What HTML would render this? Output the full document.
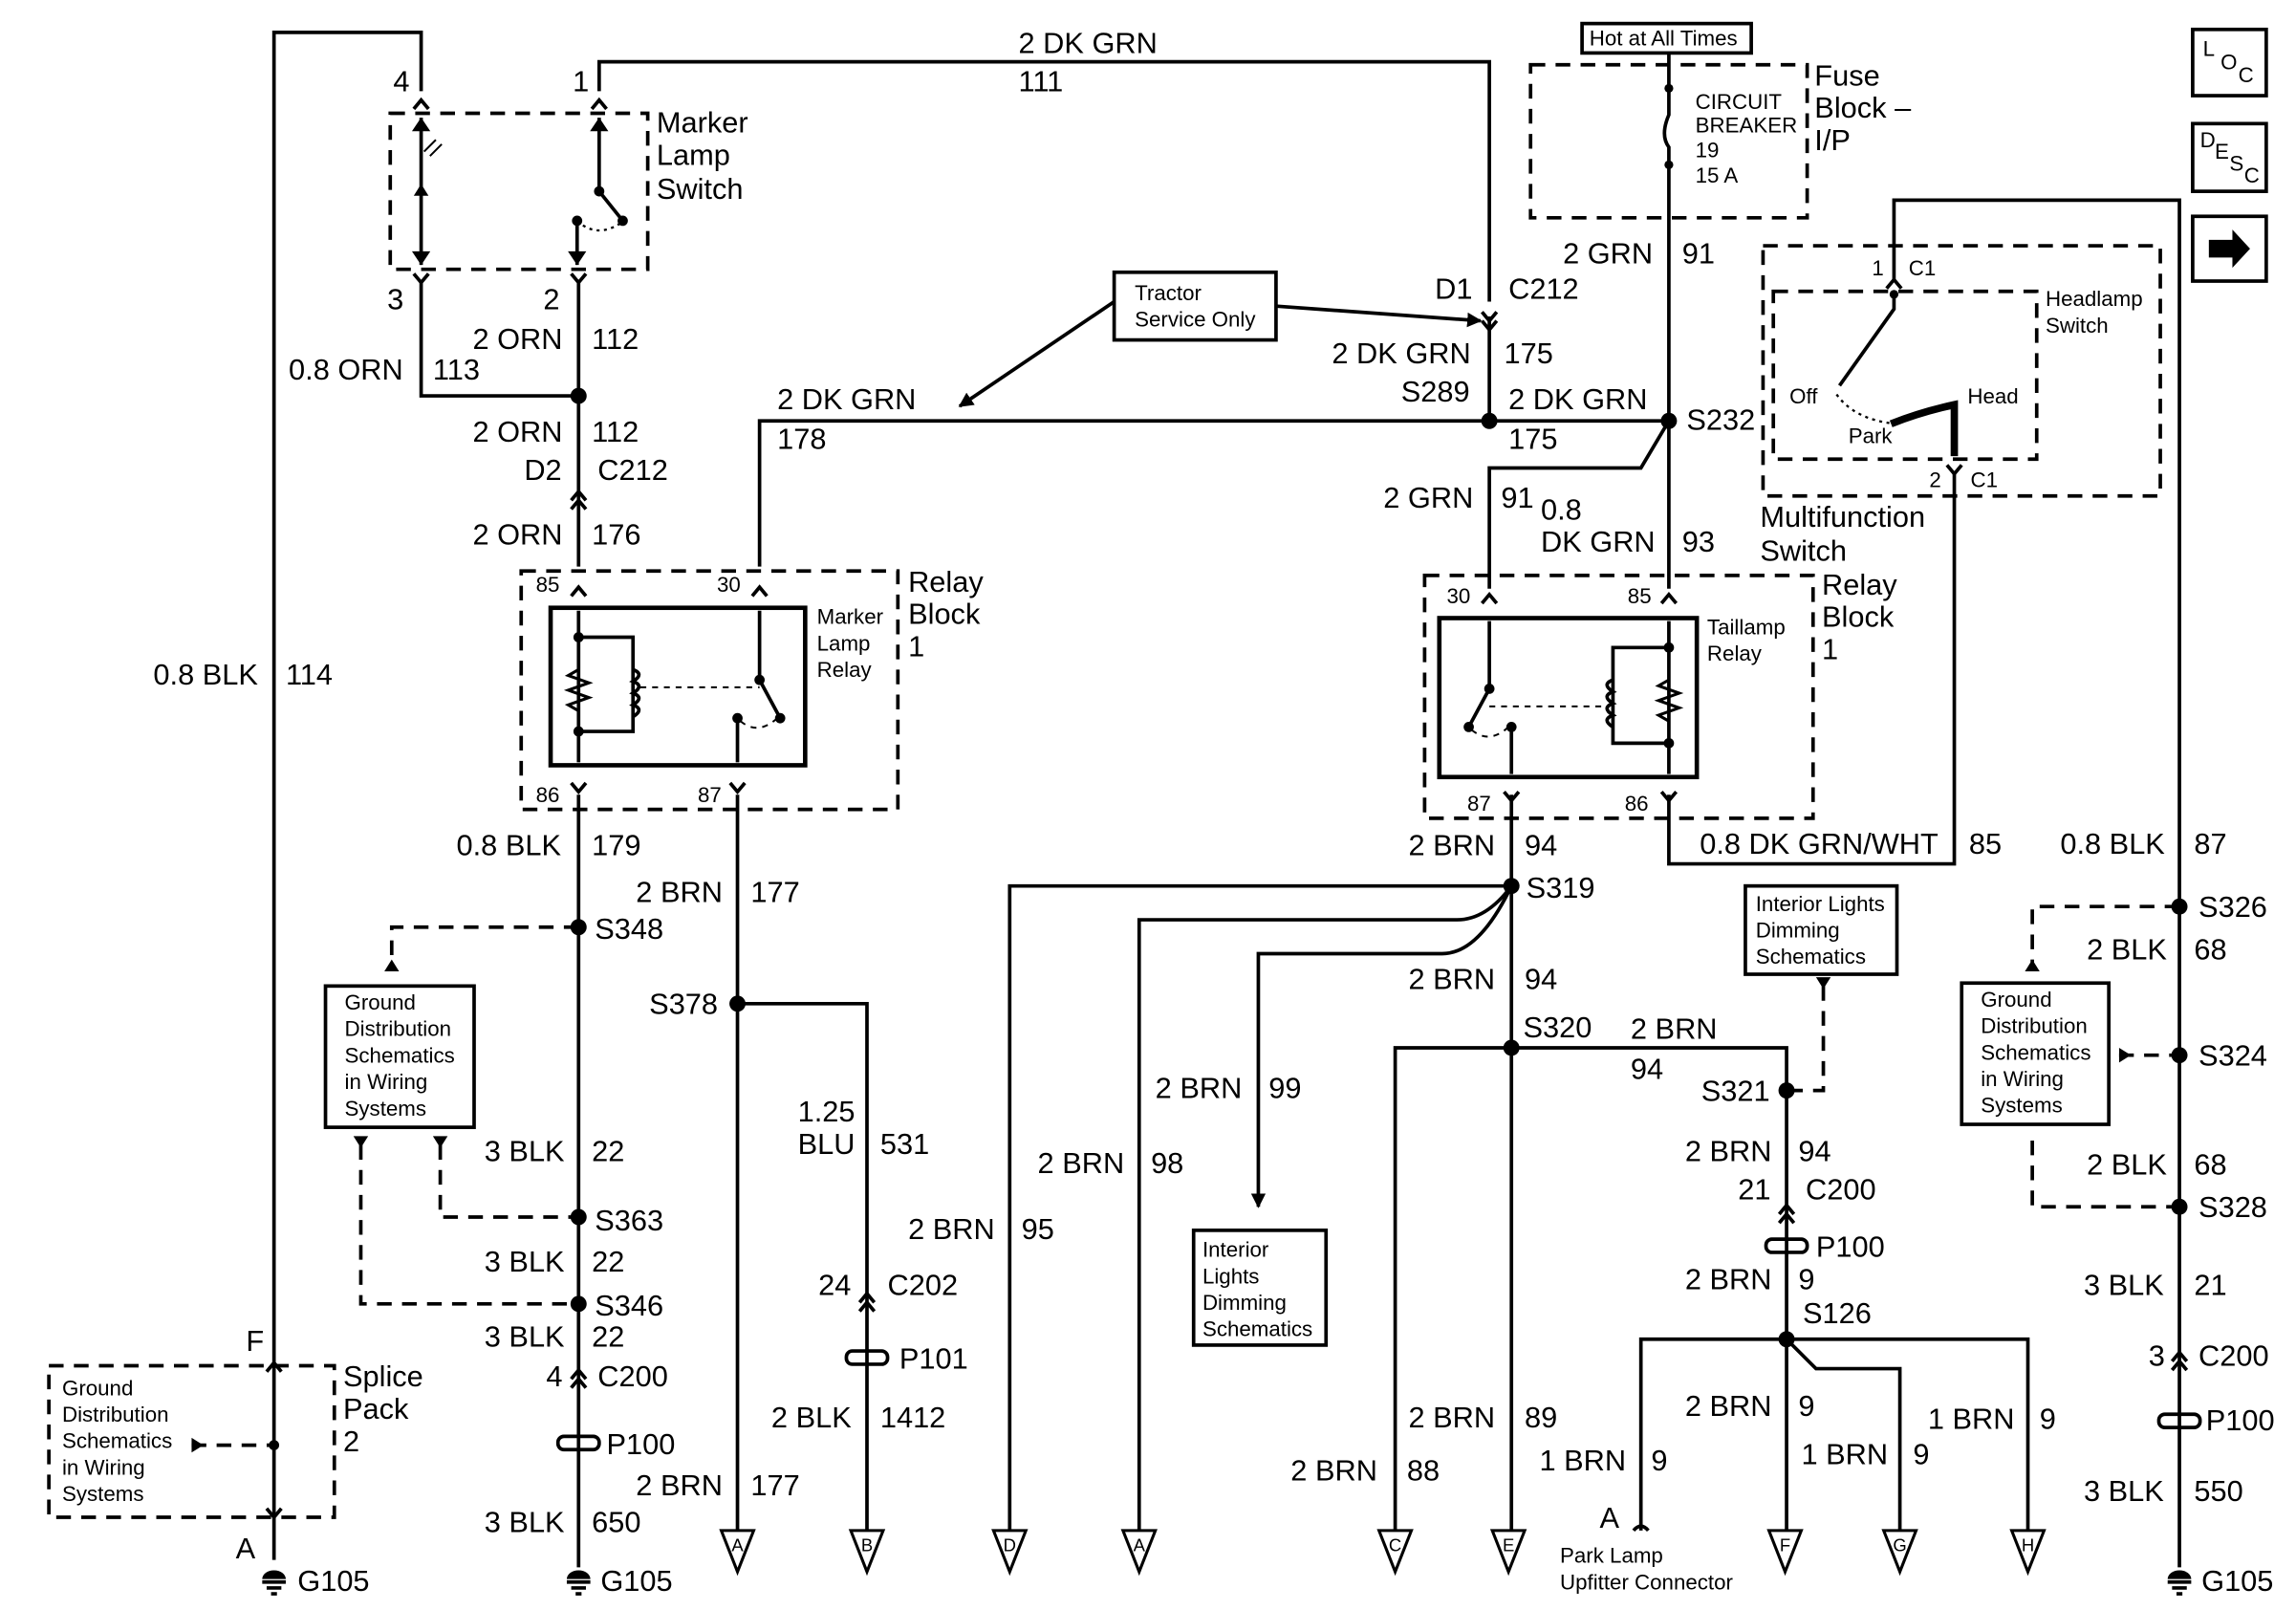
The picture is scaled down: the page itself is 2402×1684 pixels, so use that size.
<!DOCTYPE html>
<html><head><meta charset="utf-8"><style>
html,body{margin:0;padding:0;background:#fff}
svg{display:block}
text{font-family:"Liberation Sans",sans-serif;fill:#000}
.l{font-size:20px}
.s{font-size:14.5px}
.t{font-size:12px}
</style></head><body>
<svg width="2402" height="1684" viewBox="0 0 1560 1094" xmlns="http://www.w3.org/2000/svg">
<defs>
<marker id="ar" markerWidth="10" markerHeight="10" refX="9" refY="5" orient="auto" markerUnits="userSpaceOnUse"><path d="M0,0 L10,5 L0,10 z" fill="#000"/></marker>
</defs>
<g fill="none" stroke="#000" stroke-width="2.4">
<path d="M186 1060 V22 H286 V62"/>
<path d="M407 62 V42 H1012 V205"/>
<path d="M286 190 V269 H393"/>
<path d="M393 190 V385"/>
<path d="M516 385 V286 H1134"/>
<path d="M1012 215 V286"/>
<path d="M1134 36 V60 M1134 112 V400"/>
<path d="M1134 286 L1115 318 H1012 V400"/>
<path d="M1134 540 V587 H1328 V320"/>
<path d="M1287 190 V136 H1481 V1065"/>
<path d="M393 540 V1065"/>
<path d="M501 540 V1040 M501 682 H589 V1040"/>
<path d="M1027 540 V1040"/>
<path d="M1027 602 H686 V1040"/>
<path d="M1027 602 Q1010 625 990 625 H774 V1040"/>
<path d="M1027 602 Q1005 648 980 648 H855 V820" marker-end="url(#ar)"/>
<path d="M948 1040 V712 H1214 V1040"/>
<path d="M1115 1040 V910 H1378 V1040"/>
<path d="M1214 910 L1234 930 H1291 V1040"/>
<g stroke-dasharray="10,7">
<rect x="265" y="77" width="175" height="106"/>
<rect x="354" y="388" width="256" height="162"/>
<rect x="968" y="391" width="264" height="165"/>
<rect x="1040" y="44" width="188" height="104"/>
<rect x="1198" y="167" width="270" height="170"/>
<rect x="1205" y="198" width="179" height="114"/>
<rect x="33" y="928" width="194" height="103"/>
<path d="M393 630 H266 V655 M1481 616 H1381 V655 M1440 717 H1481 M1381 775 V820 H1481 M299 778 V827 H393 M245 778 V886 H393 M1239 670 V741 H1214 M130 982 H186"/>
</g>
<rect x="374" y="413" width="173" height="107" stroke-width="3"/>
<rect x="978" y="420" width="175" height="108" stroke-width="3"/>
<rect x="757" y="185" width="110" height="46"/>
<rect x="1075" y="16" width="115" height="20"/>
<rect x="221" y="670" width="101" height="96"/>
<rect x="1333" y="668" width="100" height="96"/>
<rect x="1186" y="602" width="103" height="60"/>
<rect x="811" y="836" width="90" height="78"/>
<rect x="1490" y="20" width="50" height="45"/>
<rect x="1490" y="84" width="50" height="46"/>
<rect x="1490" y="147" width="50" height="44"/>
<path d="M757 205 L652 276" marker-end="url(#ar)"/>
<path d="M867 208 L1006 218" marker-end="url(#ar)"/>
<path d="M286 80 V180 M407 80 V130 L423 150 M392 150 V180"/>
<path d="M392 150 Q405 162 421 152" stroke-dasharray="2,3" stroke-width="1.5"/>
<path d="M393 415 V518 M393 433 H430 V497 H393 M516 415 V462 L530 488 M501 488 V518"/>
<path d="M393 455 l-7 4 14 5 -14 5 14 5 -14 5 7 4" stroke-width="2"/>
<path d="M430 455 q8 3 0 8 q8 3 0 8 q8 3 0 8 q8 3 0 8"/>
<path d="M435 467 H516 M503 490 Q515 500 528 488" stroke-dasharray="4,4" stroke-width="1.3"/>
<path d="M1134 422 V526 M1134 440 H1096 V505 H1134 M1012 422 V468 L998 494 M1027 494 V526"/>
<path d="M1134 462 l-7 4 14 5 -14 5 14 5 -14 5 7 4" stroke-width="2"/>
<path d="M1096 462 q-8 3 0 8 q-8 3 0 8 q-8 3 0 8 q-8 3 0 8"/>
<path d="M1012 480 H1090 M1000 496 Q1012 506 1025 494" stroke-dasharray="4,4" stroke-width="1.3"/>
<path d="M1287 200 V210 L1250 262"/>
<path d="M1248 268 Q1260 285 1288 288" stroke-dasharray="2,3" stroke-width="1.5"/>
<path d="M1285 288 Q1305 280 1328 275 V310" stroke-width="5"/>
<path d="M1134 60 V78 Q1128 92 1134 100 V112"/>
<path d="M281 74 l5 -6 5 6 M402 74 l5 -6 5 6 M281 186 l5 6 5 -6 M388 186 l5 6 5 -6 M1007 212 l5 6 5 -6 M1007 218 l5 6 5 -6 M388 340 l5 -6 5 6 M388 346 l5 -6 5 6 M388 405 l5 -6 5 6 M511 405 l5 -6 5 6 M388 532 l5 6 5 -6 M496 532 l5 6 5 -6 M1007 410 l5 -6 5 6 M1129 410 l5 -6 5 6 M1022 538 l5 6 5 -6 M1129 538 l5 6 5 -6 M1282 196 l5 -6 5 6 M1323 316 l5 6 5 -6 M388 937 l5 -6 5 6 M388 943 l5 -6 5 6 M584 885 l5 -6 5 6 M584 891 l5 -6 5 6 M1209 825 l5 -6 5 6 M1209 831 l5 -6 5 6 M1476 925 l5 -6 5 6 M1476 931 l5 -6 5 6 M181 932 l5 -6 5 6 M181 1025 l5 6 5 -6 M1110 1040 q5 -6 10 0"/>
<path d="M286 82 l-4 6 8 0 z M286 178 l-4 -6 8 0z M407 82 l-4 6 8 0z M392 178 l-4 -6 8 0z" fill="#000"/>
<path d="M490 1040 L512 1040 L501 1068 Z M578 1040 L600 1040 L589 1068 Z M675 1040 L697 1040 L686 1068 Z M763 1040 L785 1040 L774 1068 Z M937 1040 L959 1040 L948 1068 Z M1014 1040 L1036 1040 L1025 1068 Z M1202 1040 L1224 1040 L1213 1068 Z M1280 1040 L1302 1040 L1291 1068 Z M1367 1040 L1389 1040 L1378 1068 Z" stroke-width="2"/>
<rect x="379" y="976" width="28" height="9" rx="4"/>
<rect x="575" y="918" width="28" height="9" rx="4"/>
<rect x="1200" y="842" width="28" height="9" rx="4"/>
<rect x="1467" y="961" width="28" height="9" rx="4"/>
<path d="M178 1075 H194 M181 1079 H191 M184 1083 H188 M385 1075 H401 M388 1079 H398 M391 1083 H395 M1473 1075 H1489 M1476 1079 H1486 M1479 1083 H1483"/>
</g>
<g fill="#000">
<path d="M266 652 l-5 8 10 0z M1381 652 l-5 8 10 0z M299 780 l-5 -8 10 0z M245 780 l-5 -8 10 0z M1239 672 l-5 -8 10 0z M1448 717 l-8 -5 0 10z M138 982 l-8 -5 0 10z"/>
<path d="M1501 163 h16 v-7 l12 13 -12 13 v-7 h-16z"/>
<circle cx="393" cy="269" r="5.5"/><circle cx="1012" cy="286" r="5.5"/><circle cx="1134" cy="286" r="5.5"/>
<circle cx="393" cy="630" r="5.5"/><circle cx="393" cy="827" r="5.5"/><circle cx="393" cy="886" r="5.5"/>
<circle cx="501" cy="682" r="5.5"/><circle cx="1027" cy="602" r="5.5"/><circle cx="1027" cy="712" r="5.5"/>
<circle cx="1214" cy="741" r="5.5"/><circle cx="1214" cy="910" r="5.5"/><circle cx="1481" cy="616" r="5.5"/>
<circle cx="1481" cy="717" r="5.5"/><circle cx="1481" cy="820" r="5.5"/><circle cx="186" cy="982" r="3.5"/>
<circle cx="407" cy="130" r="3.5"/><circle cx="423" cy="150" r="3.5"/><circle cx="392" cy="150" r="3.5"/>
<circle cx="393" cy="433" r="3.5"/><circle cx="393" cy="497" r="3.5"/><circle cx="516" cy="462" r="3.5"/><circle cx="530" cy="488" r="3.5"/><circle cx="501" cy="488" r="3.5"/>
<circle cx="1134" cy="440" r="3.5"/><circle cx="1134" cy="505" r="3.5"/><circle cx="1012" cy="468" r="3.5"/><circle cx="998" cy="494" r="3.5"/><circle cx="1027" cy="494" r="3.5"/>
<circle cx="1134" cy="60" r="3"/><circle cx="1134" cy="112" r="3"/><circle cx="1287" cy="200" r="3"/>
<path d="M178 1073 a8 6 0 0 1 16 0z M385 1073 a8 6 0 0 1 16 0z M1473 1073 a8 6 0 0 1 16 0z"/>
</g>
<g class="t" text-anchor="middle">
<text x="501" y="1054">A</text><text x="589" y="1054">B</text><text x="686" y="1054">D</text><text x="774" y="1054">A</text><text x="948" y="1054">C</text><text x="1025" y="1054">E</text><text x="1213" y="1054">F</text><text x="1291" y="1054">G</text><text x="1378" y="1054">H</text>
</g>
<g class="l">
<text x="267" y="62">4</text><text x="389" y="62">1</text>
<text x="446" y="90">Marker</text><text x="446" y="112">Lamp</text><text x="446" y="135">Switch</text>
<text x="692" y="36">2 DK GRN</text><text x="692" y="62">111</text>
<text x="263" y="210">3</text><text x="369" y="210">2</text>
<text x="321" y="237">2 ORN</text><text x="402" y="237">112</text>
<text x="196" y="258">0.8 ORN</text><text x="294" y="258">113</text>
<text x="321" y="300">2 ORN</text><text x="402" y="300">112</text>
<text x="356" y="326">D2</text><text x="406" y="326">C212</text>
<text x="321" y="370">2 ORN</text><text x="402" y="370">176</text>
<text x="617" y="402">Relay</text><text x="617" y="424">Block</text><text x="617" y="446">1</text>
<text x="528" y="278">2 DK GRN</text><text x="528" y="305">178</text>
<text x="975" y="203">D1</text><text x="1025" y="203">C212</text>
<text x="905" y="247">2 DK GRN</text><text x="1022" y="247">175</text>
<text x="952" y="273">S289</text>
<text x="1025" y="278">2 DK GRN</text><text x="1025" y="305">175</text>
<text x="1233" y="58">Fuse</text><text x="1233" y="80">Block –</text><text x="1233" y="102">I/P</text>
<text x="1062" y="179">2 GRN</text><text x="1143" y="179">91</text>
<text x="1146" y="292">S232</text>
<text x="940" y="345">2 GRN</text><text x="1020" y="345">91</text>
<text x="1047" y="353">0.8</text><text x="1047" y="375">DK GRN</text><text x="1143" y="375">93</text>
<text x="1238" y="404">Relay</text><text x="1238" y="426">Block</text><text x="1238" y="448">1</text>
<text x="1196" y="358">Multifunction</text><text x="1196" y="381">Switch</text>
<text x="1155" y="580">0.8 DK GRN/WHT</text><text x="1338" y="580">85</text>
<text x="1400" y="580">0.8 BLK</text><text x="1491" y="580">87</text>
<text x="1494" y="623">S326</text>
<text x="1418" y="652">2 BLK</text><text x="1491" y="652">68</text>
<text x="1494" y="724">S324</text>
<text x="1418" y="798">2 BLK</text><text x="1491" y="798">68</text>
<text x="1494" y="827">S328</text>
<text x="1416" y="880">3 BLK</text><text x="1491" y="880">21</text>
<text x="1460" y="928">3</text><text x="1494" y="928">C200</text>
<text x="1499" y="972">P100</text>
<text x="1416" y="1020">3 BLK</text><text x="1491" y="1020">550</text>
<text x="1496" y="1081">G105</text>
<text x="104" y="465">0.8 BLK</text><text x="194" y="465">114</text>
<text x="310" y="581">0.8 BLK</text><text x="402" y="581">179</text>
<text x="404" y="638">S348</text>
<text x="329" y="789">3 BLK</text><text x="402" y="789">22</text>
<text x="404" y="836">S363</text>
<text x="329" y="864">3 BLK</text><text x="402" y="864">22</text>
<text x="404" y="894">S346</text>
<text x="329" y="915">3 BLK</text><text x="402" y="915">22</text>
<text x="371" y="942">4</text><text x="406" y="942">C200</text>
<text x="412" y="988">P100</text>
<text x="329" y="1041">3 BLK</text><text x="402" y="1041">650</text>
<text x="202" y="1081">G105</text><text x="408" y="1081">G105</text>
<text x="432" y="613">2 BRN</text><text x="510" y="613">177</text>
<text x="441" y="689">S378</text>
<text x="542" y="762">1.25</text><text x="542" y="784">BLU</text><text x="598" y="784">531</text>
<text x="556" y="880">24</text><text x="603" y="880">C202</text>
<text x="611" y="930">P101</text>
<text x="524" y="970">2 BLK</text><text x="598" y="970">1412</text>
<text x="432" y="1016">2 BRN</text><text x="510" y="1016">177</text>
<text x="167" y="918">F</text><text x="160" y="1059">A</text>
<text x="233" y="942">Splice</text><text x="233" y="964">Pack</text><text x="233" y="986">2</text>
<text x="957" y="581">2 BRN</text><text x="1036" y="581">94</text>
<text x="1037" y="610">S319</text>
<text x="785" y="746">2 BRN</text><text x="862" y="746">99</text>
<text x="705" y="797">2 BRN</text><text x="782" y="797">98</text>
<text x="617" y="842">2 BRN</text><text x="694" y="842">95</text>
<text x="957" y="672">2 BRN</text><text x="1036" y="672">94</text>
<text x="1035" y="705">S320</text>
<text x="1108" y="706">2 BRN</text><text x="1108" y="733">94</text>
<text x="1156" y="748">S321</text>
<text x="1145" y="789">2 BRN</text><text x="1222" y="789">94</text>
<text x="1181" y="815">21</text><text x="1227" y="815">C200</text>
<text x="1234" y="854">P100</text>
<text x="1145" y="876">2 BRN</text><text x="1222" y="876">9</text>
<text x="1225" y="899">S126</text>
<text x="957" y="970">2 BRN</text><text x="1036" y="970">89</text>
<text x="877" y="1006">2 BRN</text><text x="956" y="1006">88</text>
<text x="1145" y="962">2 BRN</text><text x="1222" y="962">9</text>
<text x="1046" y="999">1 BRN</text><text x="1122" y="999">9</text>
<text x="1224" y="995">1 BRN</text><text x="1300" y="995">9</text>
<text x="1310" y="971">1 BRN</text><text x="1386" y="971">9</text>
<text x="1087" y="1038">A</text>
</g>
<g class="s">
<text x="364" y="402">85</text><text x="487" y="402">30</text><text x="364" y="545">86</text><text x="474" y="545">87</text>
<text x="555" y="424">Marker</text><text x="555" y="442">Lamp</text><text x="555" y="460">Relay</text>
<text x="771" y="204">Tractor</text><text x="771" y="222">Service Only</text>
<text x="1080" y="31">Hot at All Times</text>
<text x="1152" y="74">CIRCUIT</text><text x="1152" y="90">BREAKER</text><text x="1152" y="107">19</text><text x="1152" y="124">15 A</text>
<text x="1272" y="187">1</text><text x="1297" y="187">C1</text>
<text x="1390" y="208">Headlamp</text><text x="1390" y="226">Switch</text>
<text x="1216" y="274">Off</text><text x="1256" y="301">Park</text><text x="1337" y="274">Head</text>
<text x="1311" y="331">2</text><text x="1339" y="331">C1</text>
<text x="983" y="410">30</text><text x="1106" y="410">85</text><text x="997" y="551">87</text><text x="1104" y="551">86</text>
<text x="1160" y="431">Taillamp</text><text x="1160" y="449">Relay</text>
<text x="234" y="686">Ground</text><text x="234" y="704">Distribution</text><text x="234" y="722">Schematics</text><text x="234" y="740">in Wiring</text><text x="234" y="758">Systems</text>
<text x="1346" y="684">Ground</text><text x="1346" y="702">Distribution</text><text x="1346" y="720">Schematics</text><text x="1346" y="738">in Wiring</text><text x="1346" y="756">Systems</text>
<text x="1193" y="619">Interior Lights</text><text x="1193" y="637">Dimming</text><text x="1193" y="655">Schematics</text>
<text x="817" y="854">Interior</text><text x="817" y="872">Lights</text><text x="817" y="890">Dimming</text><text x="817" y="908">Schematics</text>
<text x="42" y="948">Ground</text><text x="42" y="966">Distribution</text><text x="42" y="984">Schematics</text><text x="42" y="1002">in Wiring</text><text x="42" y="1020">Systems</text>
<text x="1060" y="1062">Park Lamp</text><text x="1060" y="1080">Upfitter Connector</text>
<text x="1497" y="38">L</text><text x="1509" y="47">O</text><text x="1521" y="56">C</text>
<text x="1495" y="100">D</text><text x="1505" y="108">E</text><text x="1515" y="116">S</text><text x="1525" y="124">C</text>
</g>
<path d="M296 95 l-8 8 M300 98 l-8 8" stroke="#000" stroke-width="1.3"/>
<path d="M281 133 h10 l-5 -8z" fill="#000"/>
</svg>
</body></html>
